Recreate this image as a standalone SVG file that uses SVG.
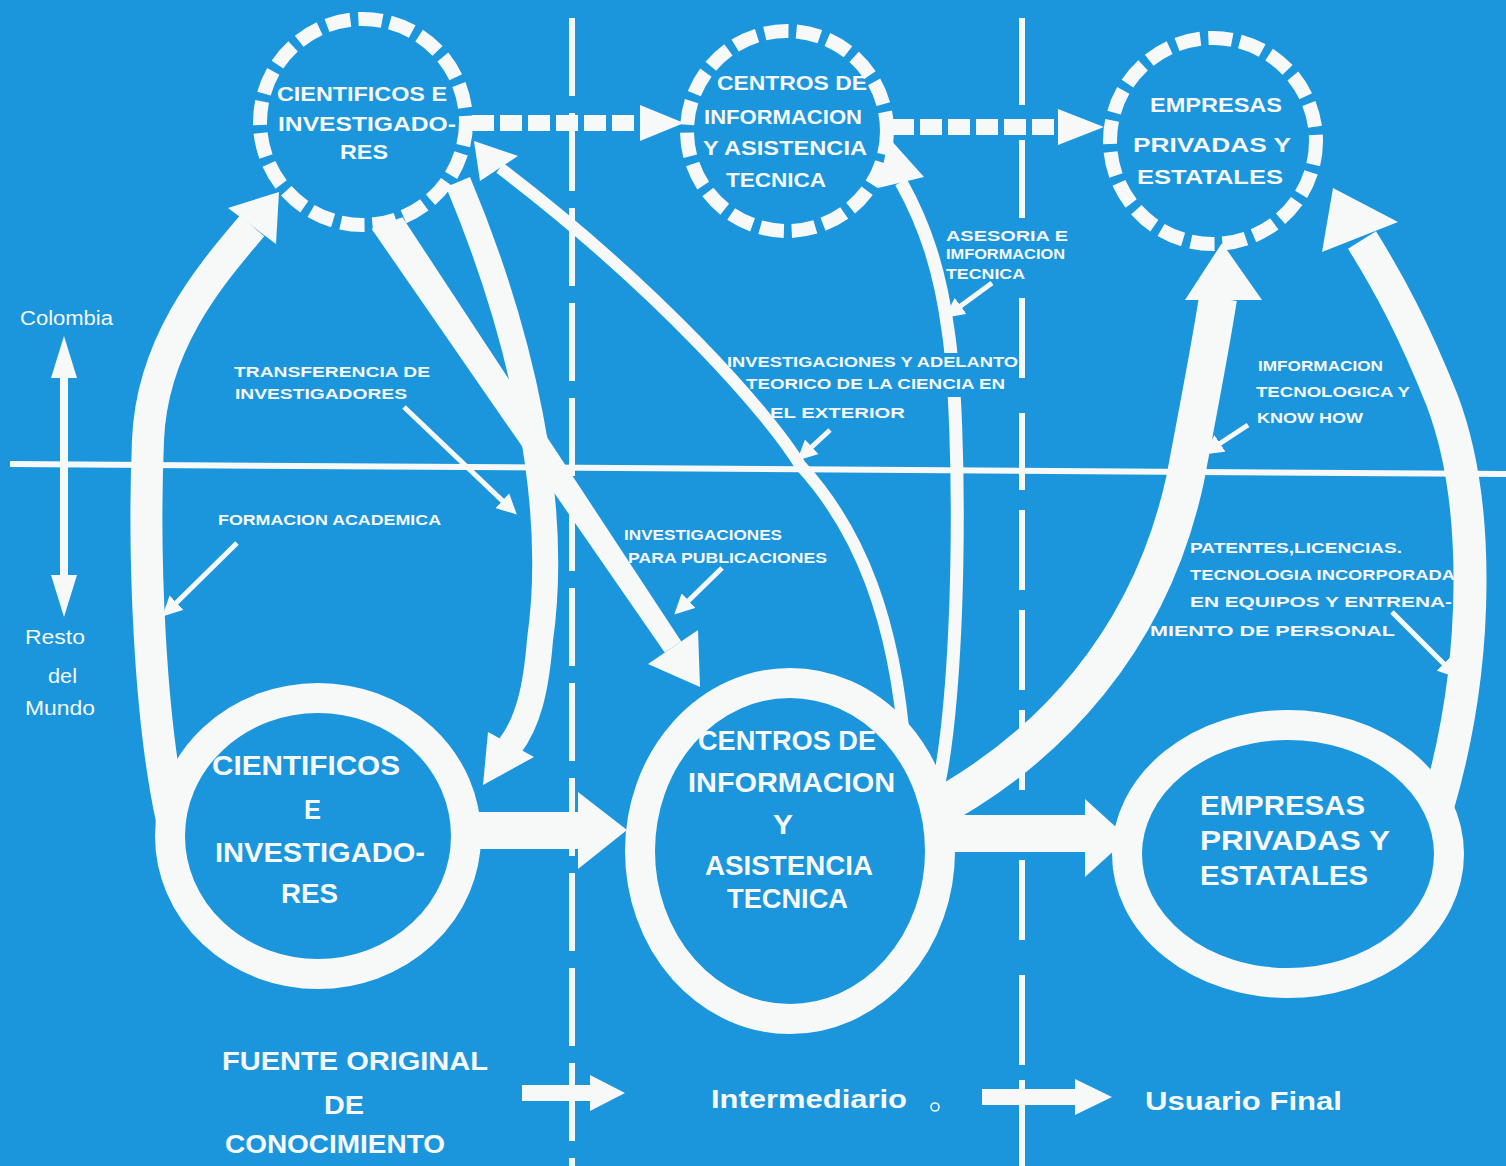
<svg xmlns="http://www.w3.org/2000/svg" width="1506" height="1166" viewBox="0 0 1506 1166">
<defs>
<style>
.bg{fill:#1b96dc}
.wf{fill:#f6f9f8}
.ws{stroke:#f6f9f8;fill:none}
.node{fill:#1b96dc;stroke:#f6f9f8}
.dash{stroke-dasharray:24 8}
.t{fill:#f6f9f8;font-family:"Liberation Sans",Arial,sans-serif}
.s{font-size:14px;font-weight:bold}
.n1{font-size:21px;font-weight:bold}
.n2{font-size:28px;font-weight:bold}
.lg{font-size:26px;font-weight:bold}
.geo{font-size:20px}
</style>
<marker id="ah" viewBox="0 0 10 10" refX="6" refY="5" markerWidth="4" markerHeight="4" orient="auto">
<path d="M0 0 L10 5 L0 10 z" fill="#f6f9f8"/>
</marker>
<mask id="gapA" maskUnits="userSpaceOnUse" x="0" y="0" width="1506" height="1166">
<rect x="0" y="0" width="1506" height="1166" fill="#fff"/>
<rect x="930" y="353" width="45" height="44" fill="#000"/>
</mask>
</defs>
<rect class="bg" x="0" y="0" width="1506" height="1166"/>

<g id="axes">
<line class="ws" x1="10" y1="464" x2="1506" y2="474" stroke-width="6"/>
<line class="ws" x1="572" y1="18" x2="572" y2="1166" stroke-width="6" stroke-dasharray="78 17"/>
<path class="ws" stroke-width="6" d="M1022 18V105M1022 140V218M1022 298V378M1022 413V490M1022 510V590M1022 610V690M1022 710V790M1022 860V940M1022 975V1065M1022 1080V1166"/>
<line class="ws" x1="64" y1="370" x2="64" y2="580" stroke-width="8"/>
<polygon class="wf" points="64,336 51,378 77,378"/>
<polygon class="wf" points="64,617 51,575 77,575"/>
<text class="t geo" x="20" y="325" textLength="93" lengthAdjust="spacingAndGlyphs">Colombia</text>
<text class="t geo" x="25" y="644" textLength="60" lengthAdjust="spacingAndGlyphs">Resto</text>
<text class="t geo" x="48" y="683" textLength="29" lengthAdjust="spacingAndGlyphs">del</text>
<text class="t geo" x="25" y="715" textLength="70" lengthAdjust="spacingAndGlyphs">Mundo</text>
</g>

<g id="connectors">
<!-- dashed top arrows -->
<line class="ws" x1="472" y1="123" x2="645" y2="123" stroke-width="16" stroke-dasharray="22 6"/>
<polygon class="wf" points="640,105 684,123 640,141"/>
<line class="ws" x1="892" y1="127" x2="1062" y2="127" stroke-width="16" stroke-dasharray="22 6"/>
<polygon class="wf" points="1058,109 1104,127 1058,145"/>
<!-- formacion academica arc -->
<path class="ws" d="M172 820 C150 720 143 560 148 440 C152 340 215 270 252 226" stroke-width="32"/>
<polygon class="wf" points="279,192 228,208 276,244"/>
<!-- D1 tapering band (investigaciones para publicaciones) -->
<polygon class="wf" points="371.7,229 398.3,211 681.3,641.4 664.7,652.6"/>
<polygon class="wf" points="648,664 700,687 698,630"/>
<!-- D2 curved band (transferencia de investigadores) -->
<path class="ws" d="M458 182 C520 330 560 500 540 640 C536 690 528 722 510 746" stroke-width="26"/>
<polygon class="wf" points="483,785 488,732 534,757"/>
<!-- investigaciones y adelanto thin curve -->
<path class="ws" d="M905 750 C895 620 860 530 800 465 C770 415 660 290 500 168" stroke-width="12"/>
<polygon class="wf" points="474,141 480,181 518,156"/>
<!-- asesoria curve -->
<path class="ws" mask="url(#gapA)" d="M935 800 C962 700 962 420 948 330 C940 270 925 225 901 182" stroke-width="13"/>
<polygon class="wf" points="889,138 878,188 924,177"/>
<!-- bottom horizontal arrows -->
<rect class="wf" x="470" y="812" width="112" height="37"/>
<polygon class="wf" points="578,792 627,830 578,869"/>
<rect class="wf" x="945" y="815" width="145" height="37"/>
<polygon class="wf" points="1085,799 1128,838 1085,877"/>
<!-- H know how -->
<path class="ws" d="M925 815 C1050 750 1150 640 1185 480 C1200 400 1210 350 1218 298" stroke-width="38"/>
<polygon class="wf" points="1222,243 1185,300 1262,300"/>
<!-- I patentes -->
<path class="ws" d="M1438 805 C1480 660 1480 500 1442 400 C1414 330 1390 285 1362 240" stroke-width="33"/>
<polygon class="wf" points="1333,188 1322,252 1398,222"/>
<!-- small annotation arrows -->
<g class="ws" stroke-width="5" marker-end="url(#ah)">
<path d="M237 543 L168 611"/>
<path d="M404 407 L511 509"/>
<path d="M722 568 L680 609"/>
<path d="M830 430 L803 455"/>
<path d="M992 283 L951 313"/>
<path d="M1248 425 L1210 450"/>
<path d="M1392 612 L1452 672"/>
</g>
<!-- legend arrows -->
<rect class="wf" x="522" y="1085" width="70" height="16"/>
<polygon class="wf" points="590,1075 625,1093 590,1111"/>
<rect class="wf" x="982" y="1089" width="95" height="16"/>
<polygon class="wf" points="1075,1079 1112,1097 1075,1115"/>
<circle class="ws" cx="935" cy="1107" r="4" stroke-width="1.6"/>
</g>

<g id="node-cient-top">
<circle class="node dash" cx="363" cy="122" r="103" stroke-width="14"/>
<text class="t n1" x="277" y="101" textLength="170" lengthAdjust="spacingAndGlyphs">CIENTIFICOS E</text>
<text class="t n1" x="278" y="131" textLength="178" lengthAdjust="spacingAndGlyphs">INVESTIGADO-</text>
<text class="t n1" x="340" y="159" textLength="48" lengthAdjust="spacingAndGlyphs">RES</text>
</g>
<g id="node-centros-top">
<circle class="node dash" cx="787" cy="131" r="100" stroke-width="14"/>
<text class="t n1" x="717" y="90" textLength="150" lengthAdjust="spacingAndGlyphs">CENTROS DE</text>
<text class="t n1" x="704" y="124" textLength="158" lengthAdjust="spacingAndGlyphs">INFORMACION</text>
<text class="t n1" x="703" y="155" textLength="164" lengthAdjust="spacingAndGlyphs">Y ASISTENCIA</text>
<text class="t n1" x="726" y="187" textLength="100" lengthAdjust="spacingAndGlyphs">TECNICA</text>
</g>
<g id="node-empresas-top">
<circle class="node dash" cx="1213" cy="141" r="103" stroke-width="14"/>
<text class="t n1" x="1150" y="112" textLength="132" lengthAdjust="spacingAndGlyphs">EMPRESAS</text>
<text class="t n1" x="1133" y="152" textLength="158" lengthAdjust="spacingAndGlyphs">PRIVADAS Y</text>
<text class="t n1" x="1137" y="184" textLength="146" lengthAdjust="spacingAndGlyphs">ESTATALES</text>
</g>
<g id="node-cient-bottom">
<ellipse class="node" cx="318" cy="836" rx="148" ry="138" stroke-width="30"/>
<text class="t n2" x="212" y="775" textLength="188" lengthAdjust="spacingAndGlyphs">CIENTIFICOS</text>
<text class="t n2" x="304" y="819" textLength="17" lengthAdjust="spacingAndGlyphs">E</text>
<text class="t n2" x="215" y="862" textLength="210" lengthAdjust="spacingAndGlyphs">INVESTIGADO-</text>
<text class="t n2" x="281" y="903" textLength="57" lengthAdjust="spacingAndGlyphs">RES</text>
</g>
<g id="node-centros-bottom">
<ellipse class="node" cx="790" cy="851" rx="150" ry="168" stroke-width="30"/>
<text class="t n2" x="698" y="750" textLength="178" lengthAdjust="spacingAndGlyphs">CENTROS DE</text>
<text class="t n2" x="688" y="792" textLength="207" lengthAdjust="spacingAndGlyphs">INFORMACION</text>
<text class="t n2" x="773" y="834" textLength="20" lengthAdjust="spacingAndGlyphs">Y</text>
<text class="t n2" x="705" y="875" textLength="168" lengthAdjust="spacingAndGlyphs">ASISTENCIA</text>
<text class="t n2" x="727" y="908" textLength="121" lengthAdjust="spacingAndGlyphs">TECNICA</text>
</g>
<g id="node-empresas-bottom">
<ellipse class="node" cx="1288" cy="854" rx="161" ry="129" stroke-width="30"/>
<text class="t n2" x="1200" y="815" textLength="165" lengthAdjust="spacingAndGlyphs">EMPRESAS</text>
<text class="t n2" x="1200" y="850" textLength="190" lengthAdjust="spacingAndGlyphs">PRIVADAS Y</text>
<text class="t n2" x="1200" y="885" textLength="168" lengthAdjust="spacingAndGlyphs">ESTATALES</text>
</g>

<g id="labels">
<text class="t s" x="234" y="377" textLength="196" lengthAdjust="spacingAndGlyphs">TRANSFERENCIA DE</text>
<text class="t s" x="235" y="399" textLength="172" lengthAdjust="spacingAndGlyphs">INVESTIGADORES</text>
<text class="t s" x="218" y="525" textLength="223" lengthAdjust="spacingAndGlyphs">FORMACION ACADEMICA</text>
<text class="t s" x="727" y="367" textLength="291" lengthAdjust="spacingAndGlyphs">INVESTIGACIONES Y ADELANTO</text>
<text class="t s" x="746" y="389" textLength="259" lengthAdjust="spacingAndGlyphs">TEORICO DE LA CIENCIA EN</text>
<text class="t s" x="770" y="418" textLength="135" lengthAdjust="spacingAndGlyphs">EL EXTERIOR</text>
<text class="t s" x="946" y="241" textLength="122" lengthAdjust="spacingAndGlyphs">ASESORIA E</text>
<text class="t s" x="946" y="259" textLength="119" lengthAdjust="spacingAndGlyphs">IMFORMACION</text>
<text class="t s" x="946" y="279" textLength="79" lengthAdjust="spacingAndGlyphs">TECNICA</text>
<text class="t s" x="624" y="540" textLength="158" lengthAdjust="spacingAndGlyphs">INVESTIGACIONES</text>
<text class="t s" x="628" y="563" textLength="199" lengthAdjust="spacingAndGlyphs">PARA PUBLICACIONES</text>
<text class="t s" x="1258" y="371" textLength="125" lengthAdjust="spacingAndGlyphs">IMFORMACION</text>
<text class="t s" x="1256" y="397" textLength="154" lengthAdjust="spacingAndGlyphs">TECNOLOGICA Y</text>
<text class="t s" x="1257" y="423" textLength="106" lengthAdjust="spacingAndGlyphs">KNOW HOW</text>
<text class="t s" x="1190" y="553" textLength="212" lengthAdjust="spacingAndGlyphs">PATENTES,LICENCIAS.</text>
<text class="t s" x="1190" y="580" textLength="265" lengthAdjust="spacingAndGlyphs">TECNOLOGIA INCORPORADA</text>
<text class="t s" x="1190" y="607" textLength="262" lengthAdjust="spacingAndGlyphs">EN EQUIPOS Y ENTRENA-</text>
<text class="t s" x="1150" y="636" textLength="245" lengthAdjust="spacingAndGlyphs">MIENTO DE PERSONAL</text>
</g>

<g id="legend">
<text class="t lg" x="222" y="1070" textLength="266" lengthAdjust="spacingAndGlyphs">FUENTE ORIGINAL</text>
<text class="t lg" x="324" y="1114" textLength="40" lengthAdjust="spacingAndGlyphs">DE</text>
<text class="t lg" x="225" y="1153" textLength="220" lengthAdjust="spacingAndGlyphs">CONOCIMIENTO</text>
<text class="t lg" x="711" y="1108" textLength="196" lengthAdjust="spacingAndGlyphs">Intermediario</text>
<text class="t lg" x="1145" y="1110" textLength="197" lengthAdjust="spacingAndGlyphs">Usuario Final</text>
</g>
</svg>
